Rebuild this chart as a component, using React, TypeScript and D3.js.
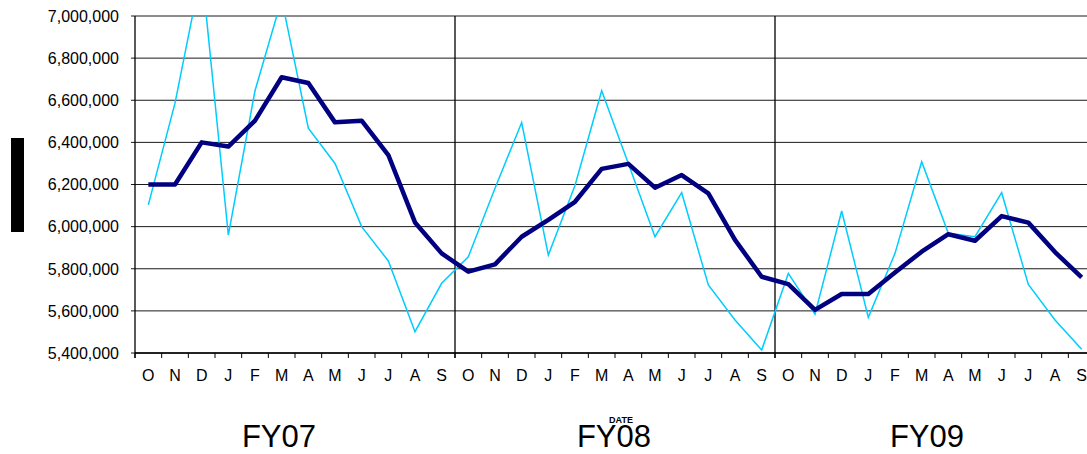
import React from 'react'
import * as d3 from 'd3'

const months = ['O', 'N', 'D', 'J', 'F', 'M', 'A', 'M', 'J', 'J', 'A', 'S']
const fiscalYears = ['FY07', 'FY08', 'FY09']
const fyLabelX = [279, 614, 927]

// thin light-blue series (monthly values)
const monthly = [
  6103000, 6586000, 7220000, 5960000, 6645000, 7080000, 6467000, 6300000, 6000000, 5837000, 5501000, 5731000,
  5857000, 6182000, 6494000, 5865000, 6195000, 6645000, 6300000, 5952000, 6161000, 5723000, 5557000, 5414000,
  5778000, 5584000, 6074000, 5569000, 5873000, 6308000, 5968000, 5952000, 6161000, 5726000, 5557000, 5418000,
]

// thick navy series (smoothed)
const smoothed = [
  6200000, 6200000, 6400000, 6380000, 6503000, 6709000, 6682000, 6495000, 6503000, 6340000, 6020000, 5873000,
  5786000, 5821000, 5952000, 6032000, 6118000, 6274000, 6298000, 6185000, 6245000, 6158000, 5937000, 5762000,
  5727000, 5605000, 5680000, 5680000, 5782000, 5881000, 5964000, 5933000, 6050000, 6019000, 5879000, 5759000,
]

const yTicks = [5400000, 5600000, 5800000, 6000000, 6200000, 6400000, 6600000, 6800000, 7000000]

const W = 1087
const H = 454
const left = 135
const right = 1095
const top = 16
const bottom = 353

export default function App() {
  const labels = fiscalYears.flatMap(() => months)
  const idx = d3.range(labels.length)

  const x = d3.scaleBand<number>().domain(idx).range([left, right])
  const y = d3.scaleLinear().domain([5400000, 7000000]).range([bottom, top])
  const fmt = d3.format(',')

  const cx = (i: number) => (x(i) as number) + x.bandwidth() / 2
  const line = d3.line<number>().x((_, i) => cx(i)).y(d => y(d))

  const font = '"Liberation Sans", Arial, sans-serif'

  return (
    <svg width={W} height={H} style={{ position: 'absolute', left: 0, top: 0 }} fontFamily={font}>
      <defs>
        <clipPath id="plot">
          <rect x={left} y={top} width={right - left} height={bottom - top} />
        </clipPath>
      </defs>

      {/* horizontal gridlines */}
      {yTicks.map(t => (
        <line key={t} x1={left - 4} x2={right} y1={y(t)} y2={y(t)} stroke="#1a1a1a" strokeWidth={1} />
      ))}

      {/* fiscal year separators */}
      {fiscalYears.map((fy, k) => (
        <line key={fy} x1={x(k * 12)} x2={x(k * 12)} y1={top} y2={bottom + 5}
          stroke="#000" strokeWidth={1.3} />
      ))}

      {/* x tick marks */}
      {idx.map(i => (
        <line key={i} x1={x(i)} x2={x(i)} y1={bottom} y2={bottom + 5} stroke="#000" strokeWidth={1} />
      ))}

      <line x1={left} x2={right} y1={bottom} y2={bottom} stroke="#000" strokeWidth={1.5} />

      {/* y labels */}
      {yTicks.map(t => (
        <text key={t} x={119} y={y(t)} dy="0.36em" textAnchor="end" fontSize={16} fill="#000">
          {fmt(t)}
        </text>
      ))}

      {/* month labels */}
      {labels.map((m, i) => (
        <text key={i} x={cx(i)} y={381} textAnchor="middle" fontSize={16} fill="#000">{m}</text>
      ))}

      {/* fiscal year labels */}
      {fiscalYears.map((fy, k) => (
        <text key={fy} x={fyLabelX[k]} y={447} textAnchor="middle" fontSize={31} fill="#000">{fy}</text>
      ))}
      <text x={621} y={423} textAnchor="middle" fontSize={9} fontWeight="bold" fill="#000">DATE</text>

      {/* y-axis title block */}
      <rect x={11} y={138} width={13} height={94} fill="#000" />

      <g clipPath="url(#plot)">
        <path d={line(monthly) || ''} fill="none" stroke="#00CCFF" strokeWidth={1.5} strokeLinejoin="miter" />
        <path d={line(smoothed) || ''} fill="none" stroke="#000080" strokeWidth={4.5} strokeLinejoin="round" />
      </g>
    </svg>
  )
}
